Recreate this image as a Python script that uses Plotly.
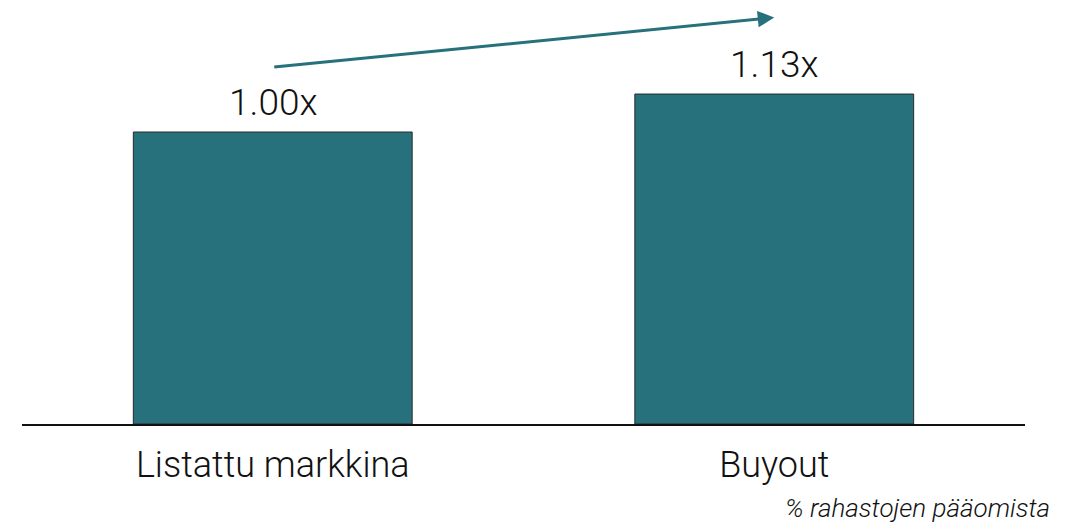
import plotly.graph_objects as go

categories = ["Listattu markkina", "Buyout"]
multiples = [1.00, 1.13]
bar_labels = ["1.00x", "1.13x"]
arrow_start = 1.222
arrow_end = 1.392
footnote = "% rahastojen pääomista"

teal = "#26717B"
font = "Roboto"

# page has an 8px body margin, so the figure is 8px smaller and margins shifted
W, H = 1066, 518
L, T, B = 14, 2, 102
R = 49
plot_w = W - L - R
plot_h = H - T - B

fig = go.Figure()
fig.add_trace(go.Bar(
    x=categories, y=multiples,
    marker=dict(color=teal, line=dict(color="#2a2a2a", width=1)),
    width=0.556,
))

for cat, val, lab in zip(categories, multiples, bar_labels):
    fig.add_annotation(
        x=cat, y=val, text=lab, showarrow=False, yanchor="bottom", yshift=6,
        font=dict(family=font, size=37, color="#111", weight=300),
    )

fig.add_annotation(
    x=1, y=arrow_end, ax=0, ay=arrow_start, xref="x", yref="y", axref="x", ayref="y",
    text="", showarrow=True, arrowhead=2, arrowsize=1.1, arrowwidth=3, arrowcolor=teal,
)
fig.add_annotation(
    xref="paper", yref="paper", x=(1052 - 8 - L) / plot_w, y=-(508 - 424) / plot_h,
    xanchor="right", yanchor="middle", text=footnote, showarrow=False,
    font=dict(family=font, size=26, color="#111", style="italic", weight=300),
)

fig.update_layout(
    width=W, height=H, plot_bgcolor="white", paper_bgcolor="white",
    margin=dict(l=L, r=R, t=T, b=B), showlegend=False,
    font=dict(family=font, color="#111"),
)
fig.update_xaxes(
    range=[-0.5, 1.5], showline=True, linecolor="#111", linewidth=1.5,
    ticks="", ticklabelstandoff=8, tickfont=dict(family=font, size=36, color="#111", weight=300),
)
fig.update_yaxes(range=[0, plot_h / 292], visible=False, showgrid=False)

fig.write_html("out.html")
